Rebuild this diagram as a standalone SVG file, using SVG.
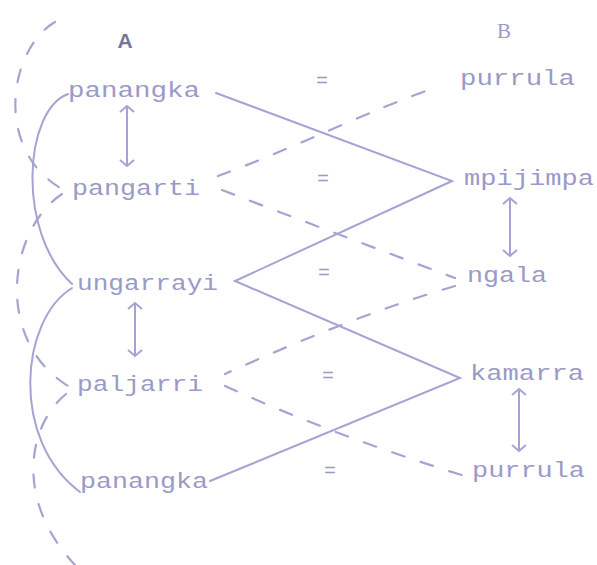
<svg xmlns="http://www.w3.org/2000/svg" width="597" height="565" viewBox="0 0 597 565">
<style>
.t{font-family:"Liberation Mono","DejaVu Sans Mono",monospace;font-size:22px;fill:#9a9ac8;}
.eq{font-family:"Liberation Mono",monospace;font-size:20px;fill:#9a9ac8;text-anchor:middle;}
.s{fill:none;stroke:#a4a4d2;stroke-width:2;stroke-linecap:round;}
.d{fill:none;stroke:#a4a4d2;stroke-width:2.2;stroke-dasharray:13 17;stroke-linecap:round;}
.a{fill:none;stroke:#a4a4d2;stroke-width:2;marker-start:url(#h);marker-end:url(#h);}
</style>
<defs>
<marker id="h" viewBox="-8 -8 16 16" markerWidth="16" markerHeight="16" markerUnits="userSpaceOnUse" orient="auto-start-reverse">
<path d="M-6,-7 L0,0 L-6,7" fill="none" stroke="#a4a4d2" stroke-width="2"/>
</marker>
</defs>
<rect width="597" height="565" fill="#ffffff"/>
<text x="125" y="48" font-family="Liberation Sans,sans-serif" font-size="21" font-weight="bold" fill="#75759a" text-anchor="middle">A</text>
<text x="504" y="38" font-family="Liberation Serif,serif" font-size="21" fill="#9a9ac8" text-anchor="middle">B</text>
<g id="connectors">
<path class="s" d="M216,93 L452,181 L235,281 L460,378 L210,481"/>
<path class="s" d="M68,94 C24,110 16,232 72,284"/>
<path class="s" d="M72,288 C20,320 10,440 80,492"/>
<path class="d" d="M55,22 C8,50 -6,150 62,189"/>
<path class="d" d="M62,194 C8,230 -6,340 68,386"/>
<path class="d" d="M66,394 C28,425 14,500 75,565"/>
<path class="d" d="M218,176 C290,150 370,110 437,87"/>
<path class="d" d="M222,190 C300,220 380,250 455,278"/>
<path class="d" d="M455,286 C380,308 300,340 225,374"/>
<path class="d" d="M225,386 C300,420 380,450 465,476"/>
<line class="a" x1="127" y1="106" x2="127" y2="166"/>
<line class="a" x1="135" y1="303" x2="135" y2="356"/>
<line class="a" x1="510" y1="198" x2="510" y2="256"/>
<line class="a" x1="519" y1="389" x2="519" y2="451"/>
</g>
<g id="A-panangka"><text class="t" x="68" y="97" textLength="132" lengthAdjust="spacingAndGlyphs">panangka</text></g>
<g id="A-pangarti"><text class="t" x="72" y="195" textLength="128" lengthAdjust="spacingAndGlyphs">pangarti</text></g>
<g id="A-ungarrayi"><text class="t" x="77" y="290" textLength="141" lengthAdjust="spacingAndGlyphs">ungarrayi</text></g>
<g id="A-paljarri"><text class="t" x="77" y="391" textLength="126" lengthAdjust="spacingAndGlyphs">paljarri</text></g>
<g id="A-panangka2"><text class="t" x="80" y="488" textLength="128" lengthAdjust="spacingAndGlyphs">panangka</text></g>
<g id="B-purrula"><text class="t" x="460" y="85" textLength="115" lengthAdjust="spacingAndGlyphs">purrula</text></g>
<g id="B-mpijimpa"><text class="t" x="464" y="185" textLength="130" lengthAdjust="spacingAndGlyphs">mpijimpa</text></g>
<g id="B-ngala"><text class="t" x="467" y="282" textLength="80" lengthAdjust="spacingAndGlyphs">ngala</text></g>
<g id="B-kamarra"><text class="t" x="470" y="380" textLength="114" lengthAdjust="spacingAndGlyphs">kamarra</text></g>
<g id="B-purrula2"><text class="t" x="472" y="477" textLength="113" lengthAdjust="spacingAndGlyphs">purrula</text></g>
<g id="equals">
<text class="eq" x="322" y="87">=</text>
<text class="eq" x="323" y="185">=</text>
<text class="eq" x="324" y="279">=</text>
<text class="eq" x="328" y="382">=</text>
<text class="eq" x="330" y="477">=</text>
</g>
</svg>
